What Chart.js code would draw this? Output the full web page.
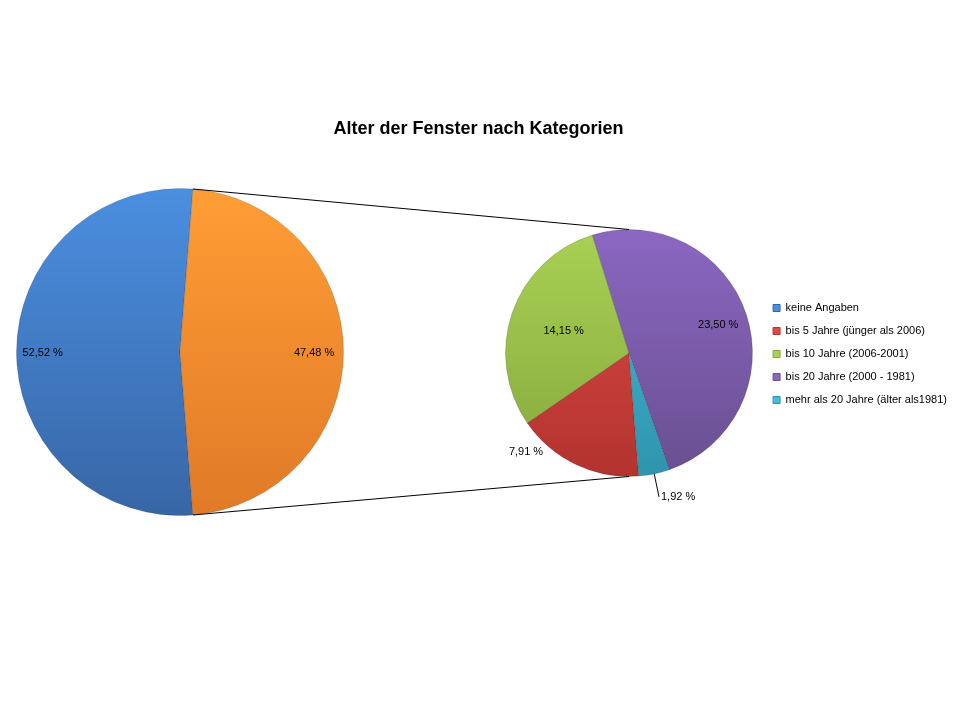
<!DOCTYPE html>
<html lang="de">

<head>
    <meta charset="UTF-8">
    <script src="https://cdn.jsdelivr.net/npm/chart.js@4.4.1/dist/chart.umd.min.js"></script>
    <title>Alter der Fenster nach Kategorien</title>
    <style>
        body { margin: 0; background: #fff; }
        .wrap { position: relative; width: 960px; height: 720px; }
        .wrap canvas { position: absolute; left: 0; top: 0; }
    </style>
</head>

<body>

    <div class="wrap">
        <canvas id="chartMain" width="960" height="720"></canvas>
        <canvas id="chartDetail" width="960" height="720"></canvas>
    </div>

    <script>

        // Daten
        var kategorien = ['keine Angaben', 'bis 5 Jahre (jünger als 2006)', 'bis 10 Jahre (2006-2001)', 'bis 20 Jahre (2000 - 1981)', 'mehr als 20 Jahre (älter als1981)'];
        var anteile = [52.52, 7.91, 14.15, 23.50, 1.92];
        var restLabel = 'Übrige';

        // Farben: [oben, unten]
        var farben = [
            ['#4b8fe0', '#3766a6'],
            ['#dc4a45', '#b3332f'],
            ['#a9d154', '#86a83c'],
            ['#8b67c2', '#694f90'],
            ['#45bcd9', '#2f94ae']
        ];
        var restFarbe = ['#ff9d35', '#e07a27'];

        var schrift = '"Liberation Sans", Arial, sans-serif';

        function verlauf(paare) {
            return function (c) {
                var paar = paare[c.dataIndex] || paare[0];
                var a = c.chart.chartArea;
                if (!a) return paar[0];
                var g = c.chart.ctx.createLinearGradient(0, a.top, 0, a.bottom);
                g.addColorStop(0, paar[0]);
                g.addColorStop(1, paar[1]);
                return g;
            };
        }

        // legt den Kreis an eine feste Stelle (Mittelpunkt + Radius)
        var kreisPlatz = {
            id: 'kreisPlatz',
            afterLayout(chart, args, opts) {
                var s = opts.r + 1;
                chart.chartArea = {
                    left: opts.x - s, right: opts.x + s,
                    top: opts.y - s, bottom: opts.y + s,
                    width: 2 * s, height: 2 * s
                };
            }
        };

        // Prozentwerte an den Segmenten (f = Anteil vom Radius, dw = Winkelversatz in Grad)
        var prozentLabels = {
            id: 'prozentLabels',
            afterDatasetsDraw(chart, args, opts) {
                var meta = chart.getDatasetMeta(0);
                var werte = chart.data.datasets[0].data;
                var lage = opts.lage;
                var c = chart.ctx;
                c.save();
                c.font = '11px ' + schrift;
                c.fillStyle = '#000';
                c.textBaseline = 'middle';
                meta.data.forEach(function (arc, i) {
                    var f = lage.f[i];
                    var dw = lage.dw ? lage.dw[i] : 0;
                    var linie = lage.linie ? lage.linie[i] : false;
                    var pr = arc.getProps(['x', 'y', 'startAngle', 'endAngle', 'outerRadius'], true);
                    var mid = (pr.startAngle + pr.endAngle) / 2 + dw * Math.PI / 180;
                    var tx = pr.x + Math.cos(mid) * pr.outerRadius * f;
                    var ty = pr.y + Math.sin(mid) * pr.outerRadius * f;
                    var txt = werte[i].toFixed(2).replace('.', ',') + ' %';
                    if (linie) {
                        c.strokeStyle = '#000';
                        c.lineWidth = 1;
                        c.beginPath();
                        c.moveTo(pr.x + Math.cos(mid) * pr.outerRadius, pr.y + Math.sin(mid) * pr.outerRadius);
                        c.lineTo(tx, ty);
                        c.stroke();
                        c.textAlign = 'left';
                        c.fillText(txt, tx + 2, ty);
                    } else {
                        c.textAlign = 'center';
                        c.fillText(txt, tx, ty + 1);
                    }
                });
                c.restore();
            }
        };

        // Hauptkreis
        var rest = anteile.slice(1).reduce(function (s, v) { return s + v; }, 0);
        var dataMain = {
            labels: [kategorien[0], restLabel],
            datasets: [{
                data: [anteile[0], Math.round(rest * 100) / 100],
                backgroundColor: verlauf([farben[0], restFarbe]),
                borderColor: 'rgba(0,0,0,0.15)',
                borderWidth: 1
            }]
        };

        var chartMain = new Chart(document.getElementById('chartMain'), {
            type: 'pie',
            data: dataMain,
            plugins: [kreisPlatz, prozentLabels],
            options: {
                responsive: false,
                animation: false,
                // Restsegment mittig nach rechts drehen
                rotation: 90 + (dataMain.datasets[0].data[1] / 100) * 180,
                layout: { padding: { right: 3, bottom: 12 } },
                plugins: {
                    kreisPlatz: { x: 180, y: 352, r: 163 },
                    prozentLabels: { lage: { f: [0.84, 0.82] } },
                    tooltip: { enabled: false },
                    title: {
                        display: true,
                        text: 'Alter der Fenster nach Kategorien',
                        color: '#000',
                        font: { family: schrift, size: 18, weight: 'bold' },
                        padding: { top: 118, bottom: 10 }
                    },
                    legend: {
                        position: 'right',
                        align: 'center',
                        labels: {
                            color: '#000',
                            font: { family: schrift, size: 11 },
                            boxWidth: 7,
                            boxHeight: 7,
                            padding: 12,
                            generateLabels: function () {
                                return kategorien.map(function (k, i) {
                                    return {
                                        text: k,
                                        fillStyle: farben[i][0],
                                        strokeStyle: farben[i][1],
                                        lineWidth: 1,
                                        hidden: false,
                                        index: i
                                    };
                                });
                            }
                        }
                    }
                }
            }
        });

        // Verbindungslinien vom Restsegment zum zweiten Kreis
        var verbinder = {
            id: 'verbinder',
            afterDraw(chart) {
                var a = chartMain.getDatasetMeta(0).data[1];
                var b = chart.getDatasetMeta(0).data[0];
                if (!a || !b) return;
                var pa = a.getProps(['x', 'y', 'startAngle', 'endAngle', 'outerRadius'], true);
                var pb = b.getProps(['x', 'y', 'outerRadius'], true);
                var c = chart.ctx;
                c.save();
                c.strokeStyle = '#000';
                c.lineWidth = 1;
                c.beginPath();
                c.moveTo(pa.x + Math.cos(pa.startAngle) * pa.outerRadius, pa.y + Math.sin(pa.startAngle) * pa.outerRadius);
                c.lineTo(pb.x, pb.y - pb.outerRadius);
                c.moveTo(pa.x + Math.cos(pa.endAngle) * pa.outerRadius, pa.y + Math.sin(pa.endAngle) * pa.outerRadius);
                c.lineTo(pb.x, pb.y + pb.outerRadius);
                c.stroke();
                c.restore();
            }
        };

        // Detailkreis
        var chartDetail = new Chart(document.getElementById('chartDetail'), {
            type: 'pie',
            data: {
                labels: kategorien.slice(1),
                datasets: [{
                    data: anteile.slice(1),
                    backgroundColor: verlauf(farben.slice(1)),
                    borderColor: 'rgba(0,0,0,0.15)',
                    borderWidth: 1
                }]
            },
            plugins: [kreisPlatz, prozentLabels, verbinder],
            options: {
                responsive: false,
                animation: false,
                rotation: 175.5,
                plugins: {
                    kreisPlatz: { x: 629, y: 353, r: 123 },
                    prozentLabels: {
                        lage: {
                            f: [1.15, 0.56, 0.76, 1.19],
                            dw: [21, 0, 0, 0],
                            linie: [false, false, false, true]
                        }
                    },
                    tooltip: { enabled: false },
                    legend: { display: false }
                }
            }
        });

    </script>

</body>

</html>
